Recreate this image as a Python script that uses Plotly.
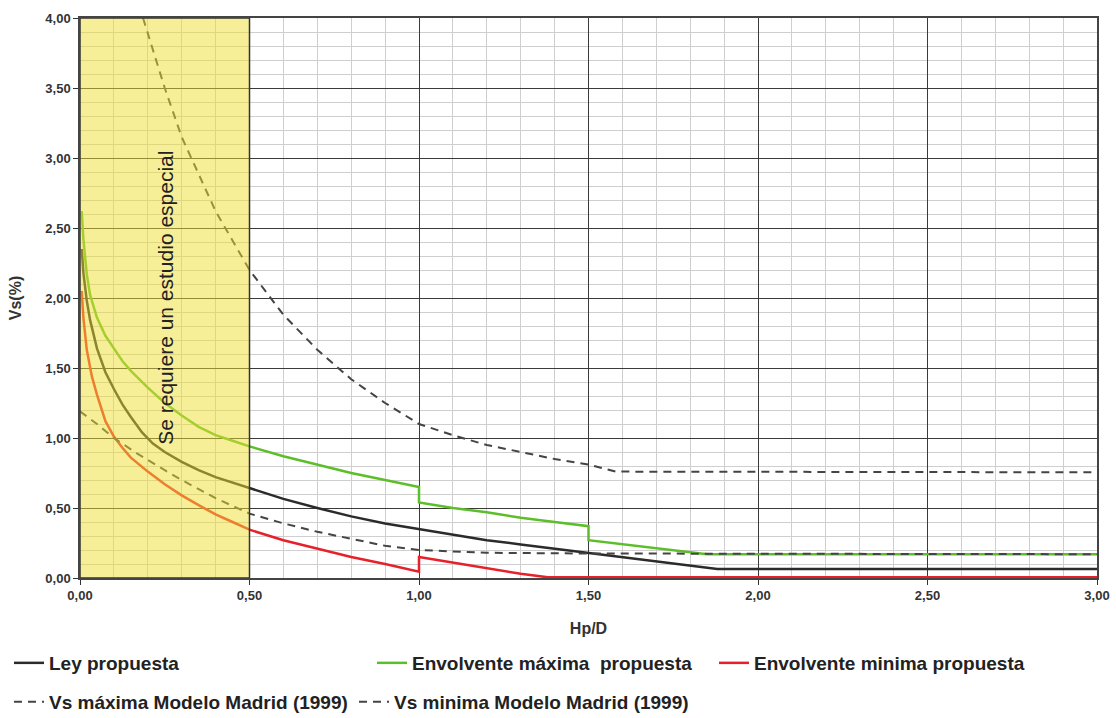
import plotly.graph_objects as go

# ---- data ----
ley_x = [0.005, 0.01, 0.02, 0.03, 0.05, 0.075, 0.10, 0.125, 0.15, 0.183, 0.215, 0.25, 0.30, 0.35, 0.40, 0.45, 0.50,
         0.60, 0.70, 0.80, 0.90, 1.00, 1.10, 1.20, 1.30, 1.40, 1.50, 1.60, 1.70, 1.80, 1.88, 3.00]
ley_y = [2.35, 2.18, 1.98, 1.84, 1.64, 1.47, 1.35, 1.24, 1.15, 1.04, 0.96, 0.90, 0.83, 0.77, 0.72, 0.68, 0.645,
         0.565, 0.50, 0.44, 0.39, 0.35, 0.31, 0.27, 0.24, 0.21, 0.18, 0.15, 0.12, 0.09, 0.065, 0.065]

max_x = [0.005, 0.01, 0.02, 0.03, 0.05, 0.075, 0.10, 0.125, 0.15, 0.20, 0.25, 0.30, 0.35, 0.40, 0.45, 0.50,
         0.60, 0.70, 0.80, 0.90, 1.00, 1.00, 1.10, 1.20, 1.30, 1.40, 1.50, 1.50,
         1.60, 1.70, 1.80, 1.85, 3.00]
max_y = [2.62, 2.42, 2.17, 2.02, 1.86, 1.73, 1.64, 1.55, 1.48, 1.36, 1.25, 1.16, 1.08, 1.02, 0.98, 0.94,
         0.87, 0.81, 0.75, 0.70, 0.65, 0.54, 0.50, 0.47, 0.43, 0.40, 0.37, 0.27,
         0.24, 0.21, 0.18, 0.17, 0.17]

min_x = [0.005, 0.01, 0.02, 0.035, 0.05, 0.075, 0.10, 0.125, 0.15, 0.20, 0.25, 0.30, 0.35, 0.40, 0.45, 0.50,
         0.60, 0.70, 0.80, 0.90, 1.00, 1.00, 1.10, 1.20, 1.30, 1.38, 3.00]
min_y = [2.05, 1.86, 1.63, 1.44, 1.31, 1.12, 1.01, 0.93, 0.86, 0.76, 0.67, 0.59, 0.52, 0.455, 0.40, 0.345,
         0.27, 0.21, 0.15, 0.10, 0.045, 0.15, 0.11, 0.07, 0.03, 0.005, 0.005]

mad_max_x = [0.186, 0.25, 0.30, 0.40, 0.50, 0.60, 0.70, 0.80, 0.90, 1.00, 1.10, 1.20, 1.30, 1.40, 1.50, 1.58, 3.00]
mad_max_y = [4.00, 3.50, 3.15, 2.62, 2.20, 1.88, 1.63, 1.42, 1.25, 1.10, 1.02, 0.95, 0.90, 0.85, 0.81, 0.76, 0.755]

mad_min_x = [0.0, 0.05, 0.10, 0.168, 0.25, 0.30, 0.40, 0.50, 0.60, 0.70, 0.80, 0.90, 1.00, 1.20, 1.50, 3.00]
mad_min_y = [1.19, 1.10, 1.00, 0.89, 0.77, 0.70, 0.57, 0.46, 0.39, 0.33, 0.28, 0.23, 0.20, 0.18, 0.175, 0.17]

zone_x = [0.0, 0.5]
zone_label = "Se requiere un estudio especial"

fig = go.Figure()

fig.add_trace(go.Scatter(x=ley_x, y=ley_y, mode="lines", name="Ley propuesta",
                         line=dict(color="#2b2b2b", width=2.5), legend="legend"))
fig.add_trace(go.Scatter(x=max_x, y=max_y, mode="lines", name="Envolvente máxima&nbsp; propuesta",
                         line=dict(color="#5cbf2a", width=2.5), legend="legend2"))
fig.add_trace(go.Scatter(x=min_x, y=min_y, mode="lines", name="Envolvente minima propuesta",
                         line=dict(color="#e8202a", width=2.5), legend="legend3"))
fig.add_trace(go.Scatter(x=mad_max_x, y=mad_max_y, mode="lines", name="Vs máxima Modelo Madrid (1999)",
                         line=dict(color="#444444", width=2, dash="8px,6px"), legend="legend4"))
fig.add_trace(go.Scatter(x=mad_min_x, y=mad_min_y, mode="lines", name="Vs minima Modelo Madrid (1999)",
                         line=dict(color="#444444", width=2, dash="8px,6px"), legend="legend5"))

fig.add_shape(type="rect", xref="x", yref="y", x0=zone_x[0], x1=zone_x[1], y0=0, y1=4,
              fillcolor="rgba(240,222,50,0.5)", line=dict(color="#333", width=1.5), layer="above")

fig.add_annotation(x=0.25, y=2.0, xref="x", yref="y", text=zone_label, textangle=-90,
                   showarrow=False, font=dict(family="Liberation Sans, Arial", size=21, color="#222"))

tickfont = dict(family="Liberation Sans, Arial", size=13, color="#333", weight="bold")
titlefont = dict(family="Liberation Sans, Arial", size=16, color="#333", weight="bold")
fig.update_xaxes(range=[0, 3], dtick=0.5, tick0=0, tickformat=".2f", tickfont=tickfont,
                 showgrid=True, gridcolor="#3a3a3a", gridwidth=1.3,
                 minor=dict(dtick=0.1, showgrid=True, gridcolor="#cfcfcf", gridwidth=1),
                 ticks="outside", ticklen=5, tickcolor="#333", automargin=False,
                 showline=True, linecolor="#444", linewidth=1.5, mirror=True, zeroline=False,
                 title=dict(text="Hp/D", font=titlefont, standoff=20))
fig.update_yaxes(range=[0, 4], dtick=0.5, tick0=0, tickformat=".2f", tickfont=tickfont,
                 showgrid=True, gridcolor="#3a3a3a", gridwidth=1.3,
                 minor=dict(dtick=0.1, showgrid=True, gridcolor="#cfcfcf", gridwidth=1),
                 ticks="outside", ticklen=5, tickcolor="#333", automargin=False,
                 showline=True, linecolor="#444", linewidth=1.5, mirror=True, zeroline=False,
                 title=dict(text="Vs(%)", font=titlefont, standoff=20))

legfont = dict(family="Liberation Sans, Arial", size=19, color="#222", weight="bold")


def leg(xpx, ypx):
    return dict(orientation="h", xref="container", yref="container",
                x=xpx / 1116, y=1 - ypx / 718, xanchor="left", yanchor="middle",
                font=legfont, itemwidth=30, bgcolor="rgba(0,0,0,0)")


fig.update_layout(
    width=1116, height=718,
    margin=dict(l=80, r=19, t=18, b=140, autoexpand=False),
    paper_bgcolor="white", plot_bgcolor="white",
    separators=",.",
    showlegend=True,
    legend=leg(9, 663),
    legend2=leg(372, 663),
    legend3=leg(714, 663),
    legend4=leg(9, 702),
    legend5=leg(354, 702),
)

fig.write_html("out.html")
